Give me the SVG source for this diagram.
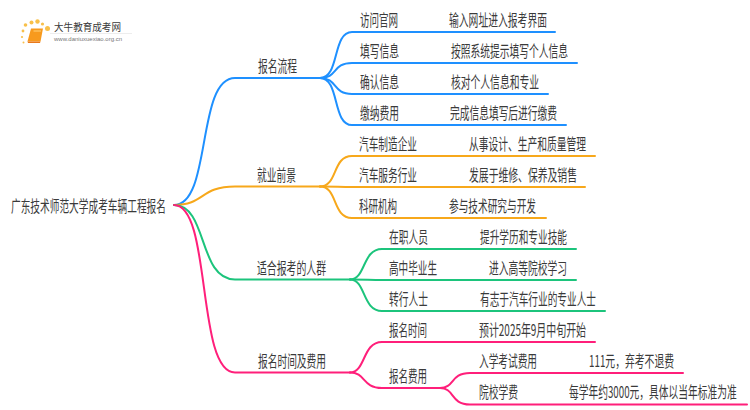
<svg xmlns="http://www.w3.org/2000/svg" width="750" height="410" viewBox="0 0 750 410">
<style>
text{font-family:"Noto Sans CJK SC","Liberation Sans",sans-serif;font-size:16px;fill:#3a3a3a}
.c path{fill:none;stroke-width:2;stroke-linecap:round}
.b path{stroke:#1e90ff}.o path{stroke:#f7a81b}.g path{stroke:#1cc47c}.p path{stroke:#ff1f7a}
.dot{fill:#f8c04a}
</style>
<rect width="750" height="410" fill="#fff"/>
<g id="logo">
<circle class="dot" cx="23" cy="31" r="1.4"/><circle class="dot" cx="25.500" cy="25" r="1.8"/><circle class="dot" cx="31.500" cy="22.500" r="2"/><circle class="dot" cx="37.500" cy="21.500" r="2.200"/><circle class="dot" cx="42.500" cy="24" r="1.600"/><circle class="dot" cx="47.500" cy="28.500" r="2.500"/><circle class="dot" cx="22" cy="37" r="1.100"/><circle class="dot" cx="23.500" cy="42.500" r="1"/>
<path d="M31 28.500H43L40.500 41.500H27.500Z" fill="#f79a1e"/><path d="M27.500 41.500H40.500L40 43H28Z" fill="#e9781a"/><path d="M33.500 31H41" stroke="#ffd27a" stroke-width="1"/>
<text x="54" y="31" textLength="67" lengthAdjust="spacingAndGlyphs" style="font-size:10.500px">大牛教育成考网</text>
<path d="M50 33.500H132" stroke="#e8e8e8" stroke-width="0.800"/>
<text x="54" y="41" textLength="68" lengthAdjust="spacingAndGlyphs" style="font-size:6px;fill:#777;font-family:'Liberation Sans',sans-serif">www.daniuxuexiao.org.cn</text>
</g>
<g id="connectors" class="c">
<g class="b">
<path d="M174 205C212 205 196 78 235 78H320"/>
<path d="M320 78C340 78 332 32 352 32H555"/>
<path d="M320 78C338 78 332 63 352 63H577"/>
<path d="M320 78C338 78 332 94 352 94H548"/>
<path d="M320 78C340 78 332 125 352 125H566"/>
</g>
<g class="o">
<path d="M174 205C205 205 200 186.500 235 186.500H320"/>
<path d="M320 186.500C338 186.500 332 156 352 156H595"/>
<path d="M320 186.500C335 186.500 340 187 352 187H585"/>
<path d="M320 186.500C338 186.500 332 218 352 218H546"/>
</g>
<g class="g">
<path d="M174 205C208 205 198 279.500 235 279.500H350"/>
<path d="M350 279.500C366 279.500 362 249 382 249H576"/>
<path d="M350 279.500C365 279.500 370 280 382 280H576"/>
<path d="M350 279.500C366 279.500 362 311 382 311H605"/>
</g>
<g class="p">
<path d="M174 205C212 205 196 372.500 235 372.500H350"/>
<path d="M350 372.500C366 372.500 362 342 382 342H595"/>
<path d="M350 372.500C366 372.500 362 388 382 388H440"/>
<path d="M440 388C455 388 450 373 470 373H683"/>
<path d="M440 388C455 388 450 404.500 470 404.500H747"/>
</g>
</g>
<g id="root"><text x="11" y="212" textLength="155" lengthAdjust="spacingAndGlyphs">广东技术师范大学成考车辆工程报名</text></g>
<g id="n1"><text x="258" y="72" textLength="39" lengthAdjust="spacingAndGlyphs">报名流程</text></g>
<g id="n1-1"><text x="360" y="26" textLength="38" lengthAdjust="spacingAndGlyphs">访问官网</text><text x="449" y="26" textLength="98" lengthAdjust="spacingAndGlyphs">输入网址进入报考界面</text></g>
<g id="n1-2"><text x="360" y="57" textLength="39" lengthAdjust="spacingAndGlyphs">填写信息</text><text x="451" y="57" textLength="117" lengthAdjust="spacingAndGlyphs">按照系统提示填写个人信息</text></g>
<g id="n1-3"><text x="360" y="88" textLength="39" lengthAdjust="spacingAndGlyphs">确认信息</text><text x="451" y="88" textLength="88" lengthAdjust="spacingAndGlyphs">核对个人信息和专业</text></g>
<g id="n1-4"><text x="360" y="119" textLength="39" lengthAdjust="spacingAndGlyphs">缴纳费用</text><text x="450" y="119" textLength="107" lengthAdjust="spacingAndGlyphs">完成信息填写后进行缴费</text></g>
<g id="n2"><text x="257" y="181" textLength="39" lengthAdjust="spacingAndGlyphs">就业前景</text></g>
<g id="n2-1"><text x="359" y="150" textLength="58" lengthAdjust="spacingAndGlyphs">汽车制造企业</text><text x="469" y="150" textLength="117" lengthAdjust="spacingAndGlyphs">从事设计、生产和质量管理</text></g>
<g id="n2-2"><text x="359" y="181" textLength="58" lengthAdjust="spacingAndGlyphs">汽车服务行业</text><text x="469" y="181" textLength="108" lengthAdjust="spacingAndGlyphs">发展于维修、保养及销售</text></g>
<g id="n2-3"><text x="359" y="212" textLength="38" lengthAdjust="spacingAndGlyphs">科研机构</text><text x="449" y="212" textLength="87" lengthAdjust="spacingAndGlyphs">参与技术研究与开发</text></g>
<g id="n3"><text x="257" y="274" textLength="69" lengthAdjust="spacingAndGlyphs">适合报考的人群</text></g>
<g id="n3-1"><text x="389" y="243" textLength="39" lengthAdjust="spacingAndGlyphs">在职人员</text><text x="480" y="243" textLength="87" lengthAdjust="spacingAndGlyphs">提升学历和专业技能</text></g>
<g id="n3-2"><text x="389" y="274" textLength="48" lengthAdjust="spacingAndGlyphs">高中毕业生</text><text x="489" y="274" textLength="78" lengthAdjust="spacingAndGlyphs">进入高等院校学习</text></g>
<g id="n3-3"><text x="389" y="305" textLength="39" lengthAdjust="spacingAndGlyphs">转行人士</text><text x="480" y="305" textLength="116" lengthAdjust="spacingAndGlyphs">有志于汽车行业的专业人士</text></g>
<g id="n4"><text x="258" y="367" textLength="68" lengthAdjust="spacingAndGlyphs">报名时间及费用</text></g>
<g id="n4-1"><text x="389" y="336" textLength="38" lengthAdjust="spacingAndGlyphs">报名时间</text><text x="479" y="336" textLength="107" lengthAdjust="spacingAndGlyphs">预计2025年9月中旬开始</text></g>
<g id="n4-2"><text x="389" y="382" textLength="38" lengthAdjust="spacingAndGlyphs">报名费用</text></g>
<g id="n4-2-1"><text x="479" y="367" textLength="58" lengthAdjust="spacingAndGlyphs">入学考试费用</text><text x="589" y="367" textLength="85" lengthAdjust="spacingAndGlyphs">111元，弃考不退费</text></g>
<g id="n4-2-2"><text x="479" y="398" textLength="39" lengthAdjust="spacingAndGlyphs">院校学费</text><text transform="translate(569 398) scale(.61 1)" textLength="275" lengthAdjust="spacingAndGlyphs">每学年约3000元，具体以当年标准为准</text></g>
</svg>
